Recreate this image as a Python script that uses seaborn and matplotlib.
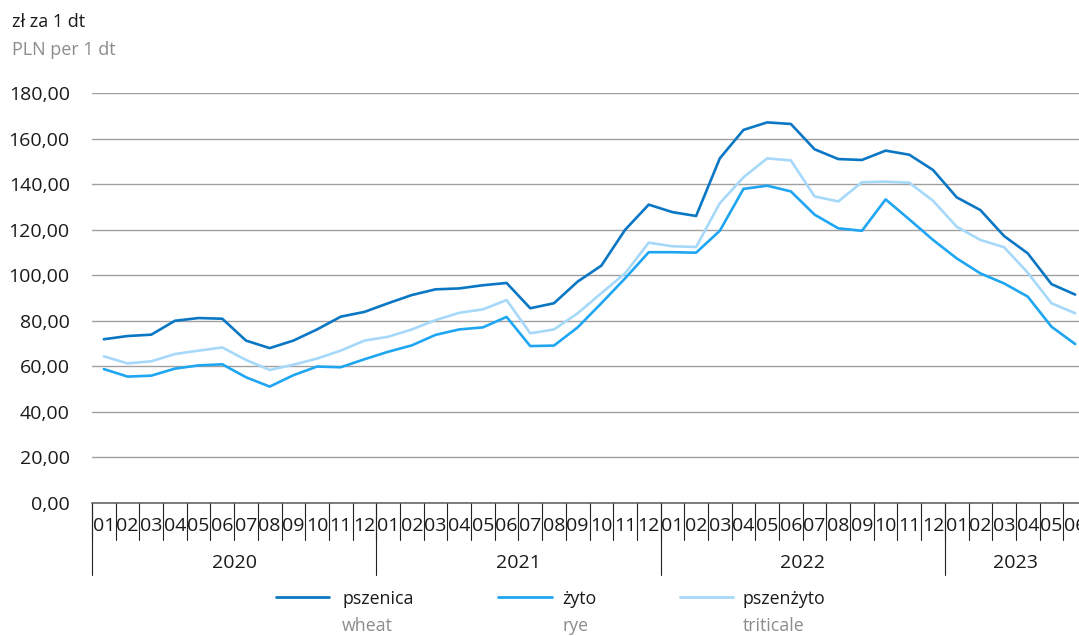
import numpy as np
import pandas as pd
import matplotlib
matplotlib.use("Agg")
import matplotlib.pyplot as plt
import seaborn as sns
from matplotlib.lines import Line2D

# ---------------- data ----------------
years = ["2020", "2021", "2022", "2023"]
months_per_year = [12, 12, 12, 6]
month_labels = ["01", "02", "03", "04", "05", "06", "07", "08", "09", "10", "11", "12"] * 3 + \
               ["01", "02", "03", "04", "05", "06"]

wheat = [71.9, 73.3, 73.9, 80.0, 81.2, 80.9, 71.3, 68.0, 71.3, 76.2, 81.8, 83.9,
         87.7, 91.3, 93.8, 94.2, 95.6, 96.6, 85.5, 87.7, 97.2, 104.2, 119.9, 131.0,
         127.7, 126.0, 151.3, 163.8, 167.1, 166.4, 155.3, 151.0, 150.6, 154.7, 152.9, 146.2,
         134.2, 128.6, 117.2, 109.6, 96.1, 91.5]
rye = [58.8, 55.5, 55.9, 59.0, 60.4, 60.9, 55.2, 51.1, 56.1, 59.9, 59.6, 63.1,
       66.4, 69.2, 73.8, 76.2, 77.1, 81.7, 68.9, 69.1, 77.1, 87.7, 98.6, 110.1,
       110.1, 109.9, 119.5, 137.9, 139.3, 136.8, 126.6, 120.6, 119.5, 133.3, 124.5, 115.5,
       107.4, 100.8, 96.4, 90.6, 77.4, 69.8]
triticale = [64.4, 61.3, 62.2, 65.4, 66.9, 68.3, 62.8, 58.4, 60.7, 63.4, 66.9, 71.3,
             73.0, 76.2, 80.3, 83.5, 85.0, 89.1, 74.5, 76.2, 83.3, 92.1, 100.8, 114.3,
             112.7, 112.4, 131.6, 143.0, 151.3, 150.4, 134.6, 132.4, 140.8, 141.1, 140.6, 132.7,
             121.3, 115.5, 112.3, 101.1, 87.7, 83.3]

series_pl = ["pszenica", "żyto", "pszenżyto"]
series_en = ["wheat", "rye", "triticale"]
colors = ["#0A77C4", "#1FA6F2", "#A6D9F9"]
y_ticks = [0, 20, 40, 60, 80, 100, 120, 140, 160, 180]

# ---------------- frame ----------------
n = len(month_labels)
df = pd.DataFrame({
    "idx": list(range(n)) * 3,
    "value": wheat + rye + triticale,
    "series": [series_pl[0]] * n + [series_pl[1]] * n + [series_pl[2]] * n,
})

sns.set_style("white")
plt.rcParams["font.family"] = ["Open Sans", "DejaVu Sans"]

W, H = 1079, 636
fig = plt.figure(figsize=(W / 100, H / 100), dpi=100)
ax_left, ax_right, ax_top, ax_bot = 92, 1087, 93, 503
ax = fig.add_axes([ax_left / W, (H - ax_bot) / H, (ax_right - ax_left) / W, (ax_bot - ax_top) / H])
ax.patch.set_alpha(0)

sns.lineplot(data=df, x="idx", y="value", hue="series", hue_order=series_pl,
             palette=dict(zip(series_pl, colors)), linewidth=1.9, legend=False, ax=ax)

ax.set_xlim(-0.5, n - 0.5)
ax.set_ylim(0, 180)
ax.set_xlabel("")
ax.set_ylabel("")

# y axis
ax.set_yticks(y_ticks)
ax.set_yticklabels([f"{v:.2f}".replace(".", ",") for v in y_ticks], fontsize=14, color="#1a1a1a")
ax.tick_params(axis="y", length=0, pad=16)
ax.grid(axis="y", color="#a0a0a0", linewidth=1.0)
ax.grid(axis="x", visible=False)
for s in ["top", "right", "left"]:
    ax.spines[s].set_visible(False)
ax.spines["bottom"].set_color("#5a5a5a")
ax.spines["bottom"].set_linewidth(1.1)
ax.set_xticks([])

# x axis: months and years
tr = ax.get_xaxis_transform()
axh = ax_bot - ax_top
month_sep = -37 / axh
year_sep = -72 / axh
for i, lab in enumerate(month_labels):
    ax.text(i, -23 / axh, lab, transform=tr, ha="center", va="center", fontsize=14,
            color="#1a1a1a", clip_on=False)
for b in range(n + 1):
    ax.plot([b - 0.5, b - 0.5], [0, month_sep], transform=tr, color="#222222",
            linewidth=0.8, clip_on=False)
start = 0
for y, m in zip(years, months_per_year):
    ax.plot([start - 0.5, start - 0.5], [0, year_sep], transform=tr, color="#222222",
            linewidth=0.8, clip_on=False)
    ax.text(start + m / 2 - 0.5, -60 / axh, y, transform=tr, ha="center", va="center",
            fontsize=14, color="#1a1a1a", clip_on=False)
    start += m

# header
fig.text(12 / W, 1 - 22 / H, "zł za 1 dt", fontsize=13, color="#1a1a1a", va="center", ha="left")
fig.text(12 / W, 1 - 50 / H, "PLN per 1 dt", fontsize=13, color="#8c8c8c", va="center", ha="left")

# legend
leg_x = [(276, 329, 342), (498, 552, 562), (680, 733, 743)]
for (x0, x1, tx), c, pl, en in zip(leg_x, colors, series_pl, series_en):
    fig.add_artist(Line2D([x0 / W, x1 / W], [1 - 597 / H, 1 - 597 / H], color=c,
                          linewidth=2.0, transform=fig.transFigure))
    fig.text(tx / W, 1 - 599 / H, pl, fontsize=12.8, color="#1a1a1a", va="center", ha="left")
    fig.text(tx / W, 1 - 626 / H, en, fontsize=12.8, color="#8c8c8c", va="center", ha="left")

fig.savefig("out.png", dpi=100)
